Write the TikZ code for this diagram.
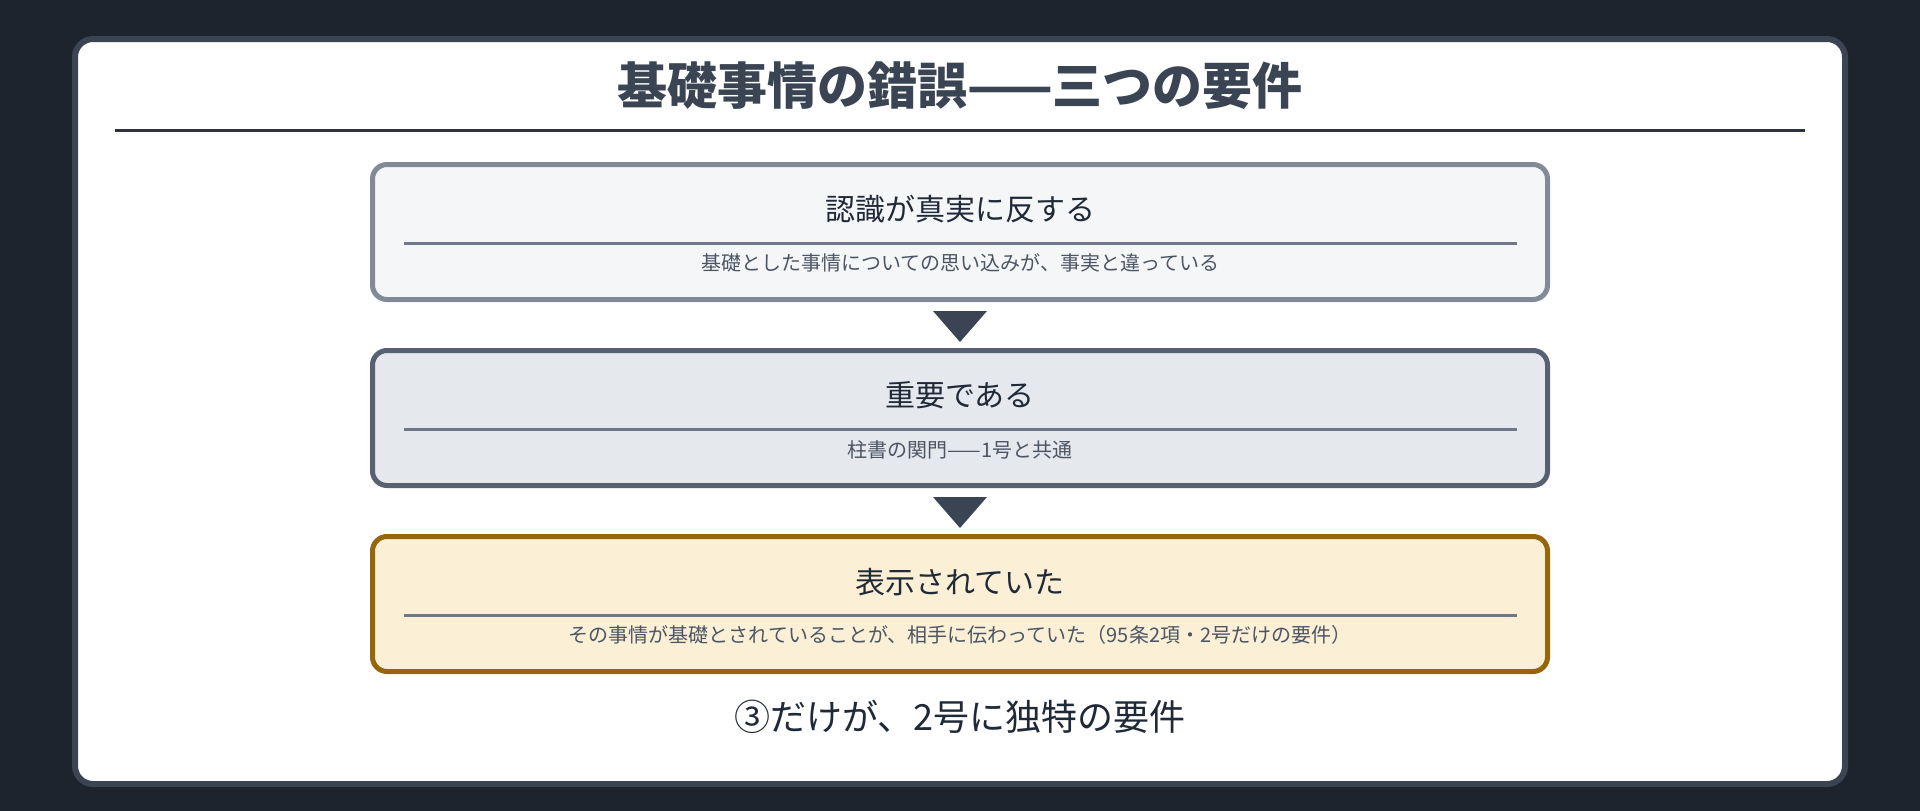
\documentclass[tikz,border=0pt]{standalone}
\usepackage{fontspec}
\setmainfont{Noto Sans CJK JP}
\usetikzlibrary{calc}
\definecolor{bgdark}{RGB}{30,36,46}
\definecolor{panelline}{RGB}{59,68,82}
\definecolor{titlecol}{RGB}{59,68,82}
\definecolor{rulecol}{RGB}{45,52,64}
\definecolor{textdark}{RGB}{31,41,55}
\definecolor{textsub}{RGB}{75,85,99}
\definecolor{divcol}{RGB}{110,120,135}
\definecolor{fillA}{RGB}{244,246,248}
\definecolor{lineA}{RGB}{130,138,152}
\definecolor{fillB}{RGB}{229,232,237}
\definecolor{lineB}{RGB}{87,97,114}
\definecolor{fillC}{RGB}{251,239,213}
\definecolor{lineC}{RGB}{149,102,10}
\definecolor{arrowcol}{RGB}{59,68,82}
\tikzset{
  stepbox/.style={draw, line width=5pt, rounded corners=14.5pt, minimum width=1175pt, minimum height=135pt, inner sep=0pt},
  boxtitle/.style={text=textdark, font=\fontsize{30}{36}\selectfont, inner sep=0pt},
  boxsub/.style={text=textsub, font=\fontsize{20}{24}\selectfont, inner sep=0pt},
  divline/.style={draw=divcol, line width=2.8pt},
  tri/.style={fill=arrowcol},
}
\begin{document}
\begin{tikzpicture}[x=1pt,y=-1pt]
\useasboundingbox (0,0) rectangle (1920,811);
\fill[bgdark] (0,0) rectangle (1920,811);
\draw[panelline, fill=white, line width=6pt, rounded corners=18pt] (75,39) rectangle (1845,784);
\node[text=titlecol, font=\bfseries\fontsize{50}{60}\selectfont, inner sep=0pt] (title) at (960,86) {基礎事情の錯誤——三つの要件};
\draw[rulecol, line width=3pt] (115,130) -- (1805,130);
% boxes
\node[stepbox, draw=lineA, fill=fillA] (b1) at (960,232) {};
\node[stepbox, draw=lineB, fill=fillB] (b2) at (960,418) {};
\node[stepbox, draw=lineC, fill=fillC] (b3) at (960,604) {};
% box 1
\node[boxtitle] (t1) at (960,209) {認識が真実に反する};
\draw[divline] (404,243.5) -- (1517,243.5);
\node[boxsub] (s1) at (960,263) {基礎とした事情についての思い込みが、事実と違っている};
% box 2
\node[boxtitle] (t2) at (960,395) {重要である};
\draw[divline] (404,429.5) -- (1517,429.5);
\node[boxsub] (s2) at (960,449.5) {柱書の関門——1号と共通};
% box 3
\node[boxtitle] (t3) at (960,582) {表示されていた};
\draw[divline] (404,615.5) -- (1517,615.5);
\node[boxsub] (s3) at (960,635) {その事情が基礎とされていることが、相手に伝わっていた（95条2項・2号だけの要件）};
% arrows
\fill[tri] ($(b1.south)+(-27,9)$) -- ($(b1.south)+(27,9)$) -- ($(b1.south)+(0,40)$) -- cycle;
\fill[tri] ($(b2.south)+(-27,9)$) -- ($(b2.south)+(27,9)$) -- ($(b2.south)+(0,40)$) -- cycle;
% footer
\node[text=textdark, font=\fontsize{36}{42}\selectfont, inner sep=0pt] (foot) at (960,717) {③だけが、2号に独特の要件};
\end{tikzpicture}
\end{document}
